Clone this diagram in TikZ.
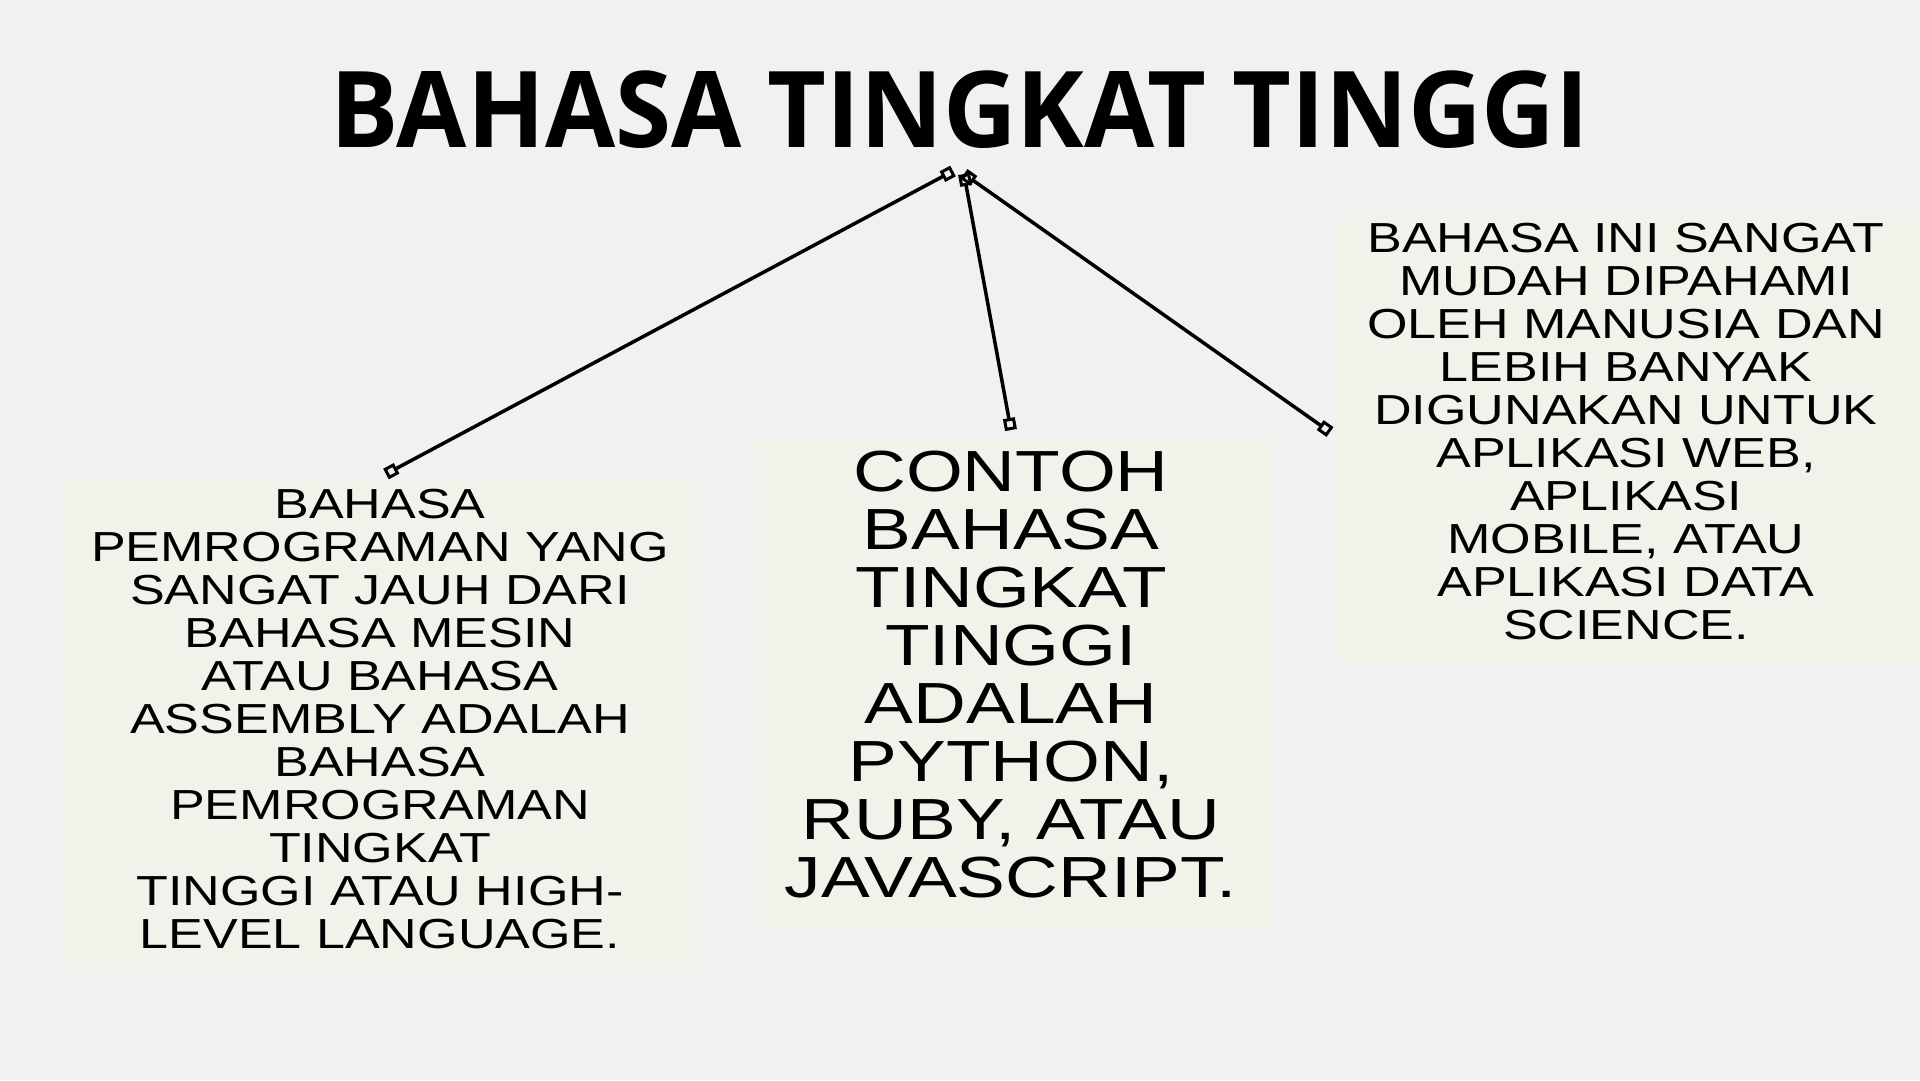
\documentclass[tikz,border=0pt]{standalone}
\usepackage{fontspec}
\setmainfont{Liberation Sans}
\newfontfamily\bodyfont[FakeStretch=1.24]{Liberation Sans}
\newfontfamily\bigfont[FakeStretch=1.26]{Liberation Sans}
\newfontfamily\titlefont[FakeStretch=0.96]{Open Sans}
\usetikzlibrary{arrows.meta}
\definecolor{bgcol}{HTML}{F2F0F0}
\definecolor{boxcol}{HTML}{F2F2EB}
\tikzset{
  panel/.style={fill=boxcol, draw=none, inner sep=0pt},
  bodytext/.style={align=center, inner sep=0pt, text=black},
  smalltext/.style={bodytext, font=\bodyfont\fontsize{42}{43}\selectfont},
  bigtext/.style={bodytext, font=\bigfont\fontsize{58}{58}\selectfont},
  link/.style={line width=3.5pt, draw=black,
    {Square[open,length=12pt,width=12pt,line width=3pt]}-{Square[open,length=12pt,width=12pt,line width=3pt]}}
}
\begin{document}
\begin{tikzpicture}[x=1pt,y=-1pt]
\useasboundingbox[fill=bgcol] (0,0) rectangle (1920,1080);
% panels
\node[panel, minimum width=641pt, minimum height=495pt] (lbox) at (379.5,725.5) {};
\node[panel, minimum width=519pt, minimum height=490pt] (mbox) at (1013.5,683) {};
\node[panel, minimum width=583pt, minimum height=454pt] (rbox) at (1628.5,438) {};
% title
\node[inner sep=0pt, font=\titlefont\bfseries\fontsize{106}{106}\selectfont] (title) at (960,110) {BAHASA TINGKAT TINGGI};
% texts
\node[smalltext] (ltext) at (380,719) {BAHASA\\PEMROGRAMAN YANG\\SANGAT JAUH DARI\\BAHASA MESIN\\ATAU BAHASA\\ASSEMBLY ADALAH\\BAHASA\\PEMROGRAMAN\\TINGKAT\\TINGGI ATAU HIGH-\\LEVEL LANGUAGE.};
\node[bigtext] (mtext) at (1011,675) {CONTOH\\BAHASA\\TINGKAT\\TINGGI\\ADALAH\\PYTHON,\\RUBY, ATAU\\JAVASCRIPT.};
\node[smalltext] (rtext) at (1626,432) {BAHASA INI SANGAT\\MUDAH DIPAHAMI\\OLEH MANUSIA DAN\\LEBIH BANYAK\\DIGUNAKAN UNTUK\\APLIKASI WEB,\\APLIKASI\\MOBILE, ATAU\\APLIKASI DATA\\SCIENCE.};
% connector ends
\coordinate (hubA) at (953,171);
\coordinate (hubB) at (964,174);
\coordinate (lend) at (386,474);
\coordinate (mend) at (1011,430);
\coordinate (rend) at (1330,432);
\draw[link] (hubA) -- (lend);
\draw[link] (hubB) -- (mend);
\draw[link] (hubB) -- (rend);
\end{tikzpicture}
\end{document}
